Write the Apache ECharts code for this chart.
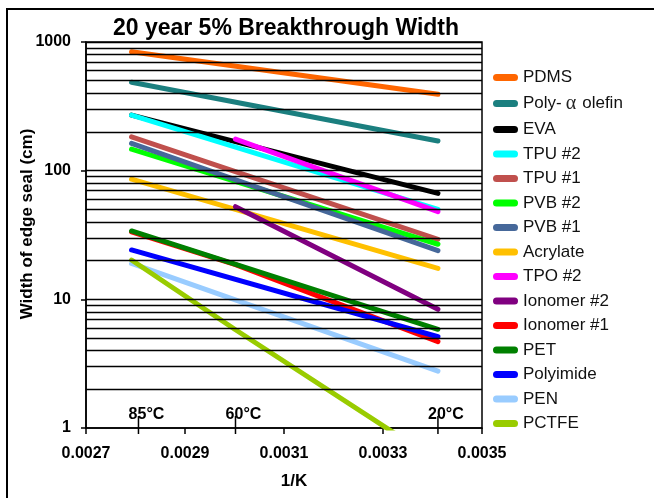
<!DOCTYPE html>
<html>
<head>
<meta charset="utf-8">
<script src="https://cdn.jsdelivr.net/npm/echarts@6/dist/echarts.min.js"></script>
<style>
html,body{margin:0;padding:0;background:#fff;}
#chart{width:654px;height:498px;}
</style>
</head>
<body>
<div id="chart"></div>
<script>
// x positions (1/K) for 85°C, 60°C, 20°C
const invK = [0.002792, 0.003002, 0.003411];
// temperature marker labels and their x positions
const markerX = [0.002806, 0.003002, 0.003411];
const markerText = ['85°C', '60°C', '20°C'];
// x tick labels
const xTicks = ['0.0027', '0.0029', '0.0031', '0.0033', '0.0035'];
// y tick labels
const yTicks = [1, 10, 100, 1000];

const seriesNames = ['PDMS', 'Poly-α olefin', 'EVA', 'TPU #2', 'TPU #1', 'PVB #2', 'PVB #1', 'Acrylate',
  'TPO #2', 'Ionomer #2', 'Ionomer #1', 'PET', 'Polyimide', 'PEN', 'PCTFE'];
// values at [85°C, 60°C, 20°C]
const PDMS = [840, null, 392];
const polyOlefin = [486, null, 170];
const EVA = [270, null, 66.6];
const TPU2 = [270, null, 50];
const TPU1 = [183, null, 29.3];
const PVB2 = [147, null, 26.8];
const PVB1 = [163, null, 23.9];
const Acrylate = [86, null, 17.4];
const TPO2 = [null, 176, 48];
const Ionomer2 = [null, 52.5, 8.36];
const Ionomer1 = [33.5, 18.6, 4.69];
const PET = [34, null, 5.85];
const Polyimide = [24.2, null, 5.12];
const PEN = [19, null, 2.77];
const PCTFE = [20.2, 5.8, 0.55];

const seriesValues = [PDMS, polyOlefin, EVA, TPU2, TPU1, PVB2, PVB1, Acrylate, TPO2, Ionomer2, Ionomer1, PET, Polyimide, PEN, PCTFE];
const seriesColors = ['#FF6600', '#1B7F7F', '#000000', '#00FFFF', '#C0504D', '#00FF00', '#46689A', '#FFC000',
  '#FF00FF', '#800080', '#FF0000', '#008000', '#0000FF', '#99CCFF', '#99CC00'];

// horizontal grid lines (log minor values)
const gridValues = [];
[1, 10, 100].forEach(d => { for (let k = 2; k <= 10; k++) gridValues.push(k * d); });

const chart = echarts.init(document.getElementById('chart'), null, {renderer: 'canvas'});

const lineSeries = seriesNames.map((name, i) => ({
  name: name,
  type: 'line',
  data: seriesValues[i].map((v, j) => [invK[j], v]),
  connectNulls: true,
  showSymbol: false,
  symbol: 'none',
  lineStyle: {color: seriesColors[i], width: 5, cap: 'round'},
  itemStyle: {color: seriesColors[i]},
  emphasis: {disabled: true},
  animation: false,
  clip: true,
  z: 3
}));

const font = '"Liberation Sans", Arial, sans-serif';

const option = {
  animation: false,
  backgroundColor: '#fff',
  title: {
    text: '20 year 5% Breakthrough Width',
    left: 281,
    top: 12,
    textAlign: 'center',
    textStyle: {fontFamily: font, fontSize: 23, fontWeight: 'bold', color: '#000'}
  },
  graphic: [{
    type: 'rect',
    shape: {x: 7, y: 9, width: 700, height: 600},
    style: {fill: 'none', stroke: '#000', lineWidth: 2},
    z: -10, silent: true
  }],
  grid: {
    left: 86, right: 172, top: 42, bottom: 70,
    containLabel: false,
    outerBoundsMode: 'none',
    show: true, borderColor: '#000', borderWidth: 1.5, backgroundColor: 'transparent'
  },
  legend: {
    data: seriesNames,
    orient: 'vertical',
    left: 493,
    top: 69,
    padding: 0,
    itemWidth: 25,
    itemHeight: 7,
    itemGap: 7.5,
    icon: 'path://M3.5,0 L21.5,0 A3.5,3.5 0 0 1 21.5,7 L3.5,7 A3.5,3.5 0 0 1 3.5,0 Z',
    selectedMode: false,
    formatter: function (n) { return n === 'Poly-α olefin' ? 'Poly-{a|α}{b|olefin}' : n; },
    textStyle: {
      fontFamily: font, fontSize: 17, color: '#111', lineHeight: 17,
      rich: {
        a: {fontFamily: '"Liberation Serif", serif', fontSize: 20, color: '#222', padding: [0, 6, 0, 4], lineHeight: 17},
        b: {fontFamily: font, fontSize: 17, color: '#111', lineHeight: 17}
      }
    }
  },
  xAxis: {
    type: 'value',
    min: 0.0027,
    max: 0.0035,
    interval: 0.0002,
    name: '1/K',
    nameLocation: 'middle',
    nameGap: 45,
    nameMoveOverlap: false,
    nameTextStyle: {fontFamily: font, fontSize: 17, fontWeight: 'bold', color: '#000', padding: [0, 0, 0, 20]},
    axisLine: {show: true, lineStyle: {color: '#000', width: 1.5}},
    axisTick: {show: true, inside: false, length: 6, lineStyle: {color: '#000', width: 1.5}},
    axisLabel: {
      fontFamily: font, fontSize: 16, fontWeight: 'bold', color: '#000', margin: 18,
      formatter: function (v) { const s = v.toFixed(4); return xTicks.indexOf(s) >= 0 ? s : ''; }
    },
    splitLine: {show: false}
  },
  yAxis: {
    type: 'log',
    logBase: 10,
    min: yTicks[0],
    max: yTicks[yTicks.length - 1],
    name: 'Width of edge seal (cm)',
    nameLocation: 'middle',
    nameGap: 50,
    nameMoveOverlap: false,
    nameTextStyle: {fontFamily: font, fontSize: 17, fontWeight: 'bold', color: '#000', padding: [0, 0, 0, 22]},
    axisLine: {show: true, lineStyle: {color: '#000', width: 1.5}},
    axisTick: {show: true, length: 5, lineStyle: {color: '#000', width: 1.5}},
    axisLabel: {
      fontFamily: font, fontSize: 16, fontWeight: 'bold', color: '#000', margin: 15,
      formatter: function (v) { return String(Math.round(v)); }
    },
    splitLine: {show: false},
    minorTick: {show: false},
    minorSplitLine: {show: false}
  },
  series: [{
    name: '_grid',
    type: 'line',
    data: [],
    silent: true,
    z: 1,
    markLine: {
      silent: true,
      symbol: 'none',
      animation: false,
      label: {show: false},
      lineStyle: {color: '#000', width: 1.3, type: 'solid'},
      emphasis: {disabled: true},
      data: gridValues.map(v => ({yAxis: v}))
    }
  }].concat(lineSeries).concat([{
    name: '_temps',
    type: 'custom',
    silent: true,
    clip: false,
    z: 4,
    data: markerX.map((x, i) => [x, yTicks[0], i]),
    renderItem: function (params, api) {
      const p = api.coord([api.value(0), api.value(1)]);
      return {
        type: 'group',
        children: [{
          type: 'line',
          shape: {x1: p[0], y1: p[1] - 12, x2: p[0], y2: p[1] + 6},
          style: {stroke: '#000', lineWidth: 1.5}
        }, {
          type: 'text',
          style: {
            text: markerText[api.value(2)],
            x: p[0] + 8, y: p[1] - 5,
            align: 'center', verticalAlign: 'bottom',
            font: 'bold 16px "Liberation Sans", Arial, sans-serif',
            fill: '#000'
          }
        }]
      };
    }
  }])
};

chart.setOption(option);
</script>
</body>
</html>
